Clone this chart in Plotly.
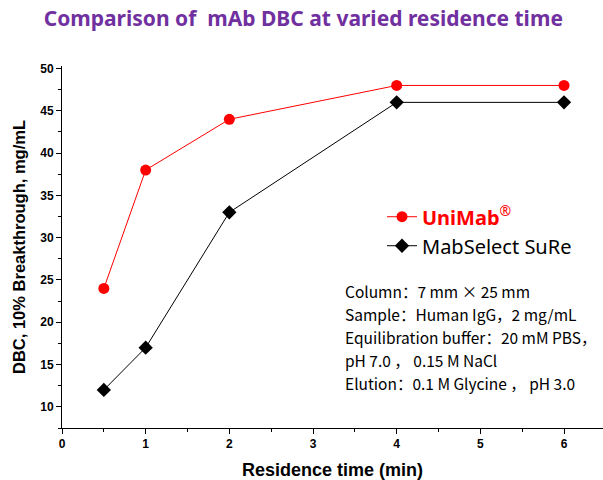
import plotly.graph_objects as go

residence_time = [0.5, 1, 2, 4, 6]
unimab_dbc = [24, 38, 44, 48, 48]
mabselect_dbc = [12, 17, 33, 46, 46]

title_text = "Comparison of\u00a0\u00a0mAb DBC at varied residence time"
x_title = "Residence time (min)"
y_title = "DBC, 10% Breakthrough, mg/mL"
x_ticks = [0, 1, 2, 3, 4, 5, 6]
y_ticks = [10, 15, 20, 25, 30, 35, 40, 45, 50]
notes = [
    "Column：7 mm × 25 mm",
    "Sample：Human IgG，2 mg/mL",
    "Equilibration buffer：20 mM PBS，",
    "pH 7.0 ， 0.15 M NaCl",
    "Elution：0.1 M Glycine ， pH 3.0",
]

fig = go.Figure()
fig.add_trace(go.Scatter(
    x=residence_time, y=unimab_dbc, mode="lines+markers",
    name="<span style='color:#FF0000'><b>UniMab</b><sup>®</sup></span>",
    line=dict(color="#FF0000", width=1),
    marker=dict(symbol="circle", size=11, color="#FF0000"),
))
fig.add_trace(go.Scatter(
    x=residence_time, y=mabselect_dbc, mode="lines+markers",
    name="MabSelect SuRe",
    line=dict(color="#000000", width=1),
    marker=dict(symbol="diamond", size=11, color="#000000"),
))

fig.update_layout(
    width=603, height=480,
    margin=dict(l=62, r=0, t=66, b=52, autoexpand=False),
    paper_bgcolor="white", plot_bgcolor="white",
    title=dict(text=title_text, x=0.503, xanchor="center", y=0.962, yanchor="middle",
               font=dict(family="Noto Sans", size=21, color="#7030A0", weight="bold")),
    showlegend=True,
    legend=dict(x=0.5915, y=0.6375, xanchor="left", yanchor="top",
                font=dict(family="Noto Sans", size=20, color="#000000"),
                bgcolor="rgba(0,0,0,0)", tracegroupgap=0),
    font=dict(family="Liberation Sans"),
)

fig.update_xaxes(
    range=[0, 6.466], tickvals=x_ticks, ticktext=[str(v) for v in x_ticks],
    showline=True, linecolor="black", linewidth=1, showgrid=False, zeroline=False,
    ticks="outside", ticklen=5, tickcolor="black",
    minor=dict(dtick=0.5, tick0=0, ticks="outside", ticklen=3, tickcolor="black"),
    tickfont=dict(family="Liberation Sans", size=12, color="black", weight="bold"),
    title=dict(text=x_title, font=dict(family="Liberation Sans", size=18, color="black", weight="bold"), standoff=12),
)
fig.update_yaxes(
    range=[7.5, 50.3], tickvals=y_ticks, ticktext=[str(v) for v in y_ticks],
    showline=True, linecolor="black", linewidth=1, showgrid=False, zeroline=False,
    ticks="outside", ticklen=5, tickcolor="black",
    minor=dict(dtick=2.5, tick0=0, ticks="outside", ticklen=3, tickcolor="black"),
    tickfont=dict(family="Liberation Sans", size=12, color="black", weight="bold"),
    title=dict(text=y_title, font=dict(family="Liberation Sans", size=16.5, color="black", weight="bold"), standoff=10),
)

for i, line in enumerate(notes):
    fig.add_annotation(
        text=line, xref="paper", yref="paper", x=0.52, y=0.378 - i * 0.0636,
        xanchor="left", yanchor="middle", align="left", showarrow=False,
        font=dict(family="Noto Sans CJK SC", size=15.5, color="black"),
    )

fig.write_html("out.html", post_script="document.body.style.margin='0';",
               config={"displayModeBar": False})
